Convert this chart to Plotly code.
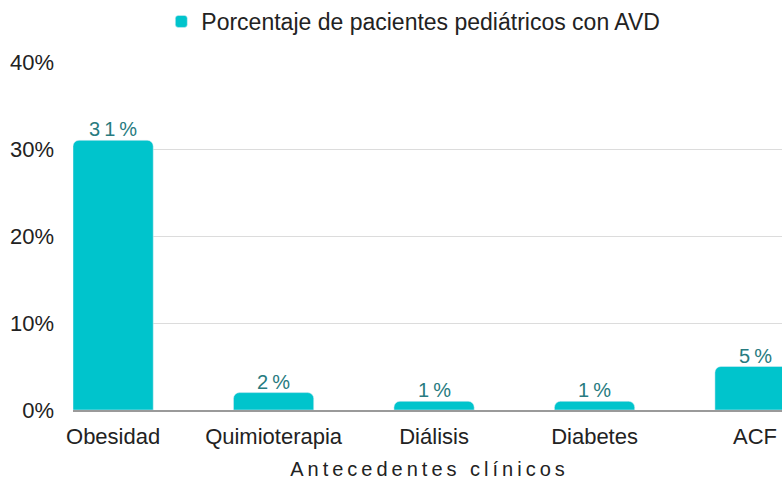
import plotly.graph_objects as go

categories = ["Obesidad", "Quimioterapia", "Diálisis", "Diabetes", "ACF"]
values = [31, 2, 1, 1, 5]
series_name = "Porcentaje de pacientes pediátricos con AVD"
y_ticks = [0, 10, 20, 30, 40]
y_ticklabels = ["0%", "10%", "20%", "30%", "40%"]
x_title = "Antecedentes clínicos"

def spaced(s, sep="\u2009"):
    return sep.join(s)

labels = [spaced(f"{v}%") for v in values]
x_title_spaced = spaced(x_title)

fig = go.Figure()
fig.add_trace(go.Bar(
    x=categories, y=values, name=series_name,
    marker=dict(color="#00C4CC", cornerradius=6),
    width=0.5,
    showlegend=True,
))

for c, v, t in zip(categories, values, labels):
    fig.add_annotation(x=c, y=v, text=t, showarrow=False, yanchor="bottom",
                       yshift=-2, font=dict(color="#277B80", size=20, family="Liberation Sans"))

fig.update_layout(
    width=782, height=480,
    margin=dict(l=73, r=0, t=62, b=70),
    plot_bgcolor="white", paper_bgcolor="white",
    font=dict(family="Liberation Sans", size=22, color="#222222"),
    showlegend=True,
    legend=dict(orientation="h", x=0.48, xanchor="center", y=1.0, yanchor="top",
                yref="container", font=dict(size=23, color="#222222"),
                itemwidth=30),
    xaxis=dict(
        range=[-0.25, 4.168],
        showgrid=False, showline=True, linecolor="#9a9a9a", linewidth=1.5,
        ticks="", tickfont=dict(size=22, color="#222222"), ticklabelstandoff=6,
        title=dict(text=x_title_spaced, font=dict(size=20, color="#222222"), standoff=15),
    ),
    yaxis=dict(
        range=[0, 40], tickvals=y_ticks, ticktext=y_ticklabels,
        showgrid=True, gridcolor="#dcdcdc", gridwidth=1.2,
        zeroline=False, showline=False, ticks="",
        tickfont=dict(size=22, color="#222222"), ticklabelstandoff=18,
    ),
    bargap=0.5,
)

fig.write_html("out.html", config={"displayModeBar": False})

with open("out.html", "r", encoding="utf-8") as f:
    html = f.read()
html = html.replace("<body>", '<body style="margin:0;padding:0;overflow:hidden">', 1)
with open("out.html", "w", encoding="utf-8") as f:
    f.write(html)
